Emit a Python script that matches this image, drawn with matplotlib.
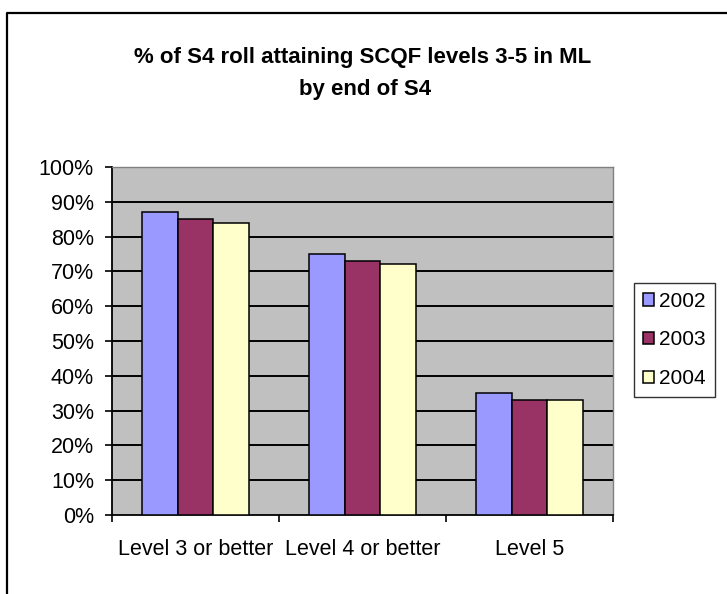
import matplotlib
matplotlib.use("Agg")
import matplotlib.pyplot as plt
from matplotlib.lines import Line2D
import numpy as np

# Share of S4 roll reaching each SCQF level in ML (percent)
categories = ["Level 3 or better", "Level 4 or better", "Level 5"]
years = ["2002", "2003", "2004"]
values_2002 = [87, 75, 35]
values_2003 = [85, 73, 33]
values_2004 = [84, 72, 33]
y_ticks = [0, 10, 20, 30, 40, 50, 60, 70, 80, 90, 100]
y_tick_labels = [f"{v}%" for v in y_ticks]

series = [values_2002, values_2003, values_2004]
colors = ["#9999FF", "#993366", "#FFFFCC"]

plt.rcParams["font.family"] = ["Liberation Sans", "DejaVu Sans"]

W, H = 727, 594
fig = plt.figure(figsize=(W / 100, H / 100), dpi=100)
fig.patch.set_facecolor("white")

# chart area frame (left and top edges)
fig.add_artist(Line2D([7 / W, 7 / W, 1.0], [0.0, 1 - 13 / H, 1 - 13 / H],
                      transform=fig.transFigure, color="black", lw=1.6))

ax = fig.add_axes([112 / W, 1 - 515 / H, (613 - 112) / W, (515 - 167) / H])
ax.set_facecolor("#C0C0C0")

x = np.arange(len(categories))
bw = 0.215
for i, (vals, col, yr) in enumerate(zip(series, colors, years)):
    ax.bar(x + (i - 1) * bw, vals, width=bw, color=col, edgecolor="black",
           linewidth=1.1, label=yr, zorder=3)

ax.set_xlim(-0.5, len(categories) - 0.5)
ax.set_ylim(0, 100)
ax.set_yticks(y_ticks)
ax.set_yticklabels(y_tick_labels, fontsize=15.5)
ax.set_xticks(x)
ax.set_xticklabels(categories, fontsize=15.5)
ax.set_xticks(np.arange(len(categories) + 1) - 0.5, minor=True)
ax.tick_params(axis="x", which="major", length=0, pad=17.5)
ax.tick_params(axis="x", which="minor", length=5, width=1.2, direction="out")
ax.tick_params(axis="y", length=5, width=1.2, direction="out", pad=8)

ax.yaxis.grid(True, color="black", linewidth=1.4)
ax.set_axisbelow(True)
ax.get_ygridlines()[-1].set_visible(False)
ax.get_ygridlines()[0].set_visible(False)

for s in ["left", "bottom"]:
    ax.spines[s].set_color("black")
    ax.spines[s].set_linewidth(1.3)
for s in ["top", "right"]:
    ax.spines[s].set_color("#808080")
    ax.spines[s].set_linewidth(1.0)

fig.text(363 / W, 1 - 63 / H, "% of S4 roll attaining SCQF levels 3-5 in ML",
         ha="center", va="baseline", fontsize=16, fontweight="bold")
fig.text(365 / W, 1 - 95 / H, "by end of S4",
         ha="center", va="baseline", fontsize=16, fontweight="bold")

leg = fig.legend(loc="center left", bbox_to_anchor=(634 / W, 1 - 340 / H),
                 fontsize=15, frameon=True, fancybox=False, edgecolor="black",
                 handlelength=0.55, handleheight=0.55, handletextpad=0.25,
                 labelspacing=0.95, borderpad=0.42, borderaxespad=0)
leg.get_frame().set_linewidth(1.0)

fig.savefig("out.png", dpi=100, facecolor="white")
